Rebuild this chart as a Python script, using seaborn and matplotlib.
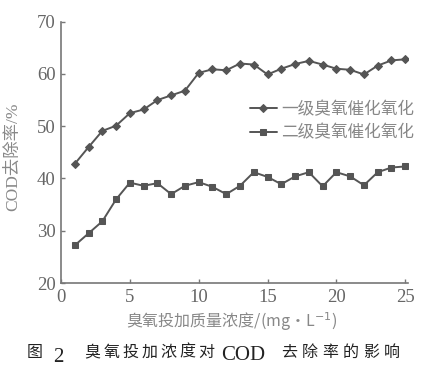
import numpy as np
import pandas as pd
import matplotlib
matplotlib.use('Agg')
import matplotlib.pyplot as plt
import seaborn as sns

# 데이터: 臭氧投加质量浓度 (mg/L) 에 따른 COD 去除率 (%)
dose = list(range(1, 26))
first_stage = [42.8, 46.0, 49.1, 50.1, 52.5, 53.2, 55.0, 55.9, 56.8, 60.2,
               60.9, 60.7, 62.0, 61.8, 59.9, 61.0, 61.9, 62.5, 61.8, 61.0,
               60.8, 59.9, 61.6, 62.6, 62.8]
second_stage = [27.2, 29.5, 31.8, 36.0, 39.2, 38.6, 39.1, 37.0, 38.6, 39.3,
                38.4, 37.0, 38.6, 41.2, 40.3, 38.9, 40.4, 41.2, 38.5, 41.2,
                40.4, 38.7, 41.2, 42.1, 42.3]
labels = ['一级臭氧催化氧化', '二级臭氧催化氧化']

x_ticks = [0, 5, 10, 15, 20, 25]
y_ticks = [20, 30, 40, 50, 60, 70]

df = pd.DataFrame({'dose': dose, 'first': first_stage, 'second': second_stage})

sns.set_style('ticks')
plt.rcParams['font.family'] = ['Liberation Serif', 'Noto Sans CJK SC', 'DejaVu Sans']

W, H = 432, 374
fig = plt.figure(figsize=(W / 100, H / 100), dpi=100)
ax = fig.add_axes([61 / W, 1 - 283 / H, (408 - 61) / W, (283 - 21.7) / H])

line_c = '#555555'
sns.lineplot(data=df, x='dose', y='first', ax=ax, color=line_c, lw=1.4,
             marker='D', markersize=4, markeredgecolor=line_c, label=labels[0])
sns.lineplot(data=df, x='dose', y='second', ax=ax, color=line_c, lw=1.4,
             marker='s', markersize=5, markeredgecolor=line_c, label=labels[1])

ax.set_xlim(0, 25.2)
ax.set_ylim(20, 70)
ax.set_xticks(x_ticks)
ax.set_yticks(y_ticks)
sns.despine(ax=ax)
for s in ['left', 'bottom']:
    ax.spines[s].set_color('#777777')
    ax.spines[s].set_linewidth(1.2)
ax.tick_params(direction='in', length=3, width=1, color='#777777',
               labelsize=13.5, labelcolor='#666666', pad=4)

ax.set_xlabel('臭氧投加质量浓度/(mg·L$^{-1}$)', fontsize=11.5, color='#888888',
              family=['Noto Sans CJK SC', 'DejaVu Sans'], va='center')
ax.xaxis.set_label_coords((232 - 61) / (408 - 61), -(322 - 283) / (283 - 21.7))
ax.set_ylabel('COD去除率/%', fontsize=12.5, color='#888888',
              family=['Liberation Serif', 'Noto Sans CJK SC'], va='center')
ax.yaxis.set_label_coords(-(61 - 13) / (408 - 61), (283 - 157) / (283 - 21.7))

leg = ax.legend(loc='upper left', bbox_to_anchor=(250 / W, 1 - 101 / H),
                bbox_transform=fig.transFigure, frameon=False,
                handlelength=1.6, handletextpad=0.25, labelspacing=0.38,
                borderpad=0, borderaxespad=0,
                prop={'family': ['Noto Sans CJK SC'], 'size': 12})
for t in leg.get_texts():
    t.set_color('#888888')


# 图注: 글자 간격을 두고 배치
def put_chars(text, x0, step, y, size=11.5):
    for i, ch in enumerate(text):
        fig.text((x0 + i * step) / W, 1 - y / H, ch, ha='center', va='center',
                 fontsize=size, color='#222222', family=['Noto Sans CJK SC'])


put_chars('图', 35, 0, 352)
fig.text(58 / W, 1 - 357 / H, '2', ha='center', va='center', fontsize=15,
         color='#222222', family='Liberation Serif')
put_chars('臭氧投加浓度对', 92.5, 18.9, 352)
fig.text(243 / W, 1 - 356 / H, 'COD', ha='center', va='center', fontsize=15,
         color='#222222', family='Liberation Serif')
put_chars('去除率的影响', 289.5, 20.4, 352)

plt.savefig('out.png', dpi=100)
